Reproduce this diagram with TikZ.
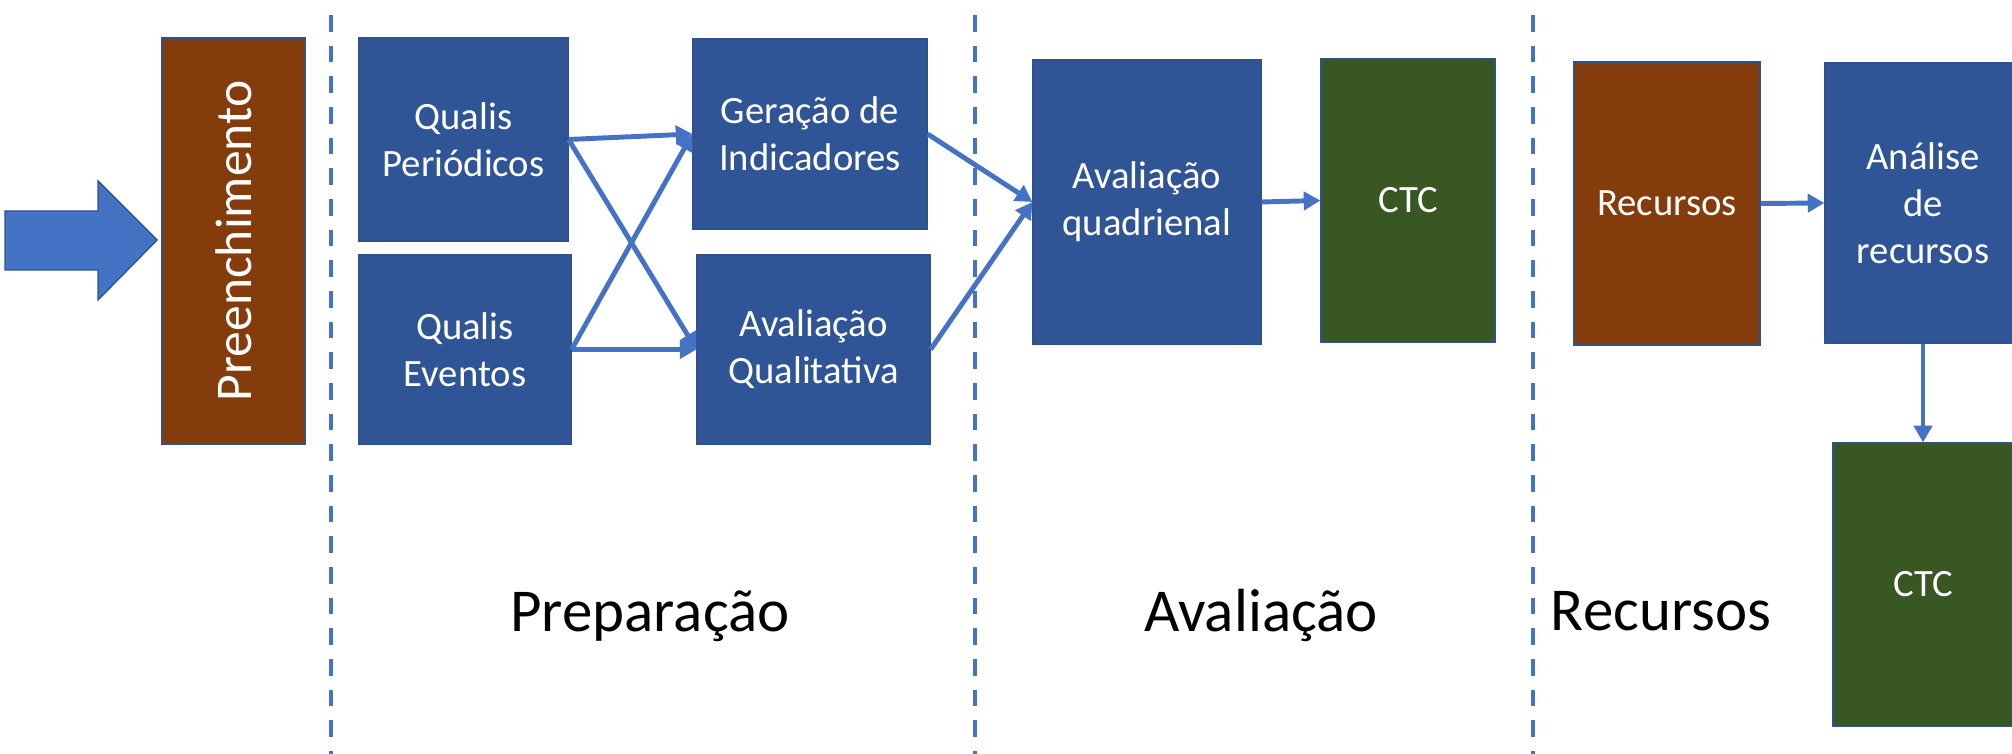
\documentclass[tikz,border=0pt]{standalone}
\usepackage{fontspec}
\setmainfont{Carlito}
\usetikzlibrary{arrows.meta}
\definecolor{boxblue}{HTML}{2F5597}
\definecolor{boxbrown}{HTML}{843C0C}
\definecolor{boxgreen}{HTML}{385723}
\definecolor{edgeblue}{HTML}{2F528F}
\definecolor{linkblue}{HTML}{4472C4}
\tikzset{
  box/.style={rectangle, draw=edgeblue, line width=0.5pt, inner sep=0pt, text=white,
    align=center, font=\fontsize{16.5}{20}\selectfont},
  bluebox/.style={box, fill=boxblue},
  brownbox/.style={box, fill=boxbrown},
  greenbox/.style={box, fill=boxgreen},
  link/.style={draw=linkblue, line width=2.1pt, -{Triangle[length=0.25cm, width=0.27cm]}},
  divider/.style={draw=linkblue, line width=2pt, dash pattern=on 0.25cm off 0.21cm},
  phase/.style={anchor=base, font=\fontsize{26}{30}\selectfont, text=black, inner sep=0pt}
}
\begin{document}
\begin{tikzpicture}[x=0.015cm, y=-0.015cm]
\useasboundingbox (0,0) rectangle (2012,754);
\fill[white] (0,0) rectangle (2012,754);
\clip (0,0) rectangle (2012,754);

% big input arrow
\draw[fill=linkblue, draw=edgeblue, line width=0.6pt]
  (5,211) -- (98,211) -- (98,181) -- (157,240) -- (98,300) -- (98,270) -- (5,270) -- cycle;

% dividers
\coordinate (d1t) at (331,15); \coordinate (d1b) at (331,760);
\coordinate (d2t) at (975,15); \coordinate (d2b) at (975,760);
\coordinate (d3t) at (1533,15); \coordinate (d3b) at (1533,760);
\draw[divider] (d1t) -- (d1b);
\draw[divider] (d2t) -- (d2b);
\draw[divider] (d3t) -- (d3b);

% boxes
\node[brownbox, rotate=90, minimum width=6.09cm, minimum height=2.145cm,
  font=\fontsize{22}{26}\selectfont] (pre) at (233.5,241) {Preenchimento};
\node[bluebox, minimum width=3.135cm, minimum height=3.045cm] (qp) at (463.5,139.5) {Qualis\\Periódicos};
\node[bluebox, minimum width=3.18cm, minimum height=2.835cm] (qe) at (465,349.5) {Qualis\\Eventos};
\node[bluebox, minimum width=3.51cm, minimum height=2.85cm] (ger) at (810,134) {Geração de\\Indicadores};
\node[bluebox, minimum width=3.495cm, minimum height=2.835cm] (aq) at (813.5,349.5) {Avaliação\\Qualitativa};
\node[bluebox, minimum width=3.42cm, minimum height=4.26cm] (avq) at (1147,202) {Avaliação\\quadrienal};
\node[greenbox, minimum width=2.61cm, minimum height=4.245cm] (ctc1) at (1408,200.5) {CTC};
\node[brownbox, minimum width=2.79cm, minimum height=4.245cm] (rec) at (1667,203.5) {Recursos};
\node[bluebox, minimum width=2.94cm, minimum height=4.2cm] (ana) at (1923,203) {Análise\\de\\recursos};
\node[greenbox, minimum width=2.70cm, minimum height=4.245cm] (ctc2) at (1923,584.5) {CTC};

% connectors
\draw[link] (qp.east) -- (ger.west);
\draw[link] (qp.east) -- (aq.west);
\draw[link] (qe.east) -- (ger.west);
\draw[link] (qe.east) -- (aq.west);
\draw[link] (ger.east) -- (avq.west);
\draw[link] (aq.east) -- (avq.west);
\draw[link] (avq.east) -- (ctc1.west);
\draw[link] (rec.east) -- (ana.west);
\draw[link] (ana.south) -- (ctc2.north);

% phase labels
\node[phase] (lprep) at (650,632) {Preparação};
\node[phase] (laval) at (1261,632) {Avaliação};
\node[phase] (lrec) at (1661,631) {Recursos};
\end{tikzpicture}
\end{document}
